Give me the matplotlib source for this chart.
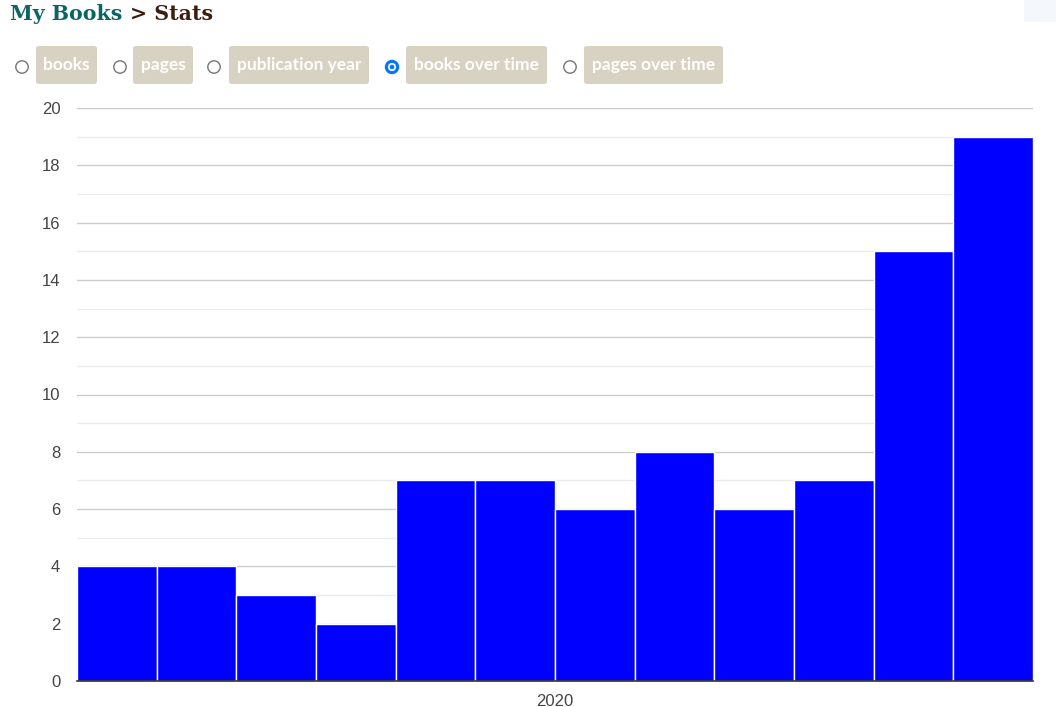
import matplotlib
matplotlib.use("Agg")
import matplotlib.pyplot as plt
from matplotlib.patches import FancyBboxPatch, Circle

months = ["2019-07", "2019-08", "2019-09", "2019-10", "2019-11", "2019-12",
          "2020-01", "2020-02", "2020-03", "2020-04", "2020-05", "2020-06"]
books = [4, 4, 3, 2, 7, 7, 6, 8, 6, 7, 15, 19]
tick_labels = ["2020"]
tick_month = "2020-01"
options = ["books", "pages", "publication year", "books over time", "pages over time"]
selected = "books over time"

W, H = 1061, 707
fig = plt.figure(figsize=(W / 100, H / 100), dpi=100)

ax = fig.add_axes([77 / W, 1 - 681 / H, (1033 - 77) / W, (681 - 108) / H])
x = list(range(len(months)))
ax.bar(x, books, width=1.0, align="edge", color="#0000ff", edgecolor="#ffffff",
       linewidth=1.0, zorder=3)
ax.set_xlim(0, len(months))
ax.set_ylim(0, 20)
ax.set_yticks(range(0, 21, 2))
ax.set_yticks(range(1, 20, 2), minor=True)
ax.grid(axis="y", which="major", color="#cccccc", linewidth=1.0, zorder=0)
ax.grid(axis="y", which="minor", color="#ebebeb", linewidth=1.0, zorder=0)
ax.set_xticks([months.index(tick_month)])
ax.set_xticklabels(tick_labels)
for s in ["top", "right", "left"]:
    ax.spines[s].set_visible(False)
ax.spines["bottom"].set_color("#333333")
ax.spines["bottom"].set_linewidth(1.2)
ax.spines["bottom"].set_zorder(4)
ax.tick_params(axis="both", which="both", length=0, labelsize=12,
               labelcolor="#444444")
ax.tick_params(axis="y", pad=12)
ax.tick_params(axis="x", pad=9)
for lab in ax.get_xticklabels() + ax.get_yticklabels():
    lab.set_fontfamily("Liberation Sans")

# Header
fig.text(10 / W, 1 - 14 / H, "My Books", fontsize=14.8, fontweight="bold",
         family="DejaVu Serif", color="#0b6663", va="center", ha="left")
fig.text(130 / W, 1 - 14 / H, "> Stats", fontsize=14.8, fontweight="bold",
         family="DejaVu Serif", color="#3b1e10", va="center", ha="left")

# faint box at top right
fig.patches.append(FancyBboxPatch((1024 / W, 1 - 22 / H), 32 / W, 22 / H,
                                  boxstyle="square,pad=0", transform=fig.transFigure,
                                  facecolor="#f4f8fd", edgecolor="none"))

# Radio buttons
boxes = [(36, 97), (133, 193), (229, 369), (406, 547), (584, 723)]
circles_x = [22, 120, 214, 392, 570]
yc = 1 - 65 / H
for opt, (x0, x1), cx in zip(options, boxes, circles_x):
    fig.patches.append(FancyBboxPatch((x0 / W, 1 - 84 / H), (x1 - x0) / W, 38 / H,
                                      boxstyle="round,pad=0,rounding_size=0.003",
                                      transform=fig.transFigure,
                                      facecolor="#d8d2c3", edgecolor="none"))
    fig.text((x0 + x1) / 2 / W, yc, opt, fontsize=12.5, fontweight="bold",
             family="Lato", color="#ffffff", ha="center", va="center")
    if opt == selected:
        fig.patches.append(Circle((cx, H - 67), 6.5, transform=None,
                                  facecolor="#0075ff", edgecolor="#0075ff", lw=1))
        fig.patches.append(Circle((cx, H - 67), 3.2, transform=None,
                                  facecolor="#0075ff", edgecolor="white", lw=1.3))
    else:
        fig.patches.append(Circle((cx, H - 67), 6.2, transform=None,
                                  facecolor="white", edgecolor="#767676", lw=1))

fig.savefig("out.png", dpi=100)
